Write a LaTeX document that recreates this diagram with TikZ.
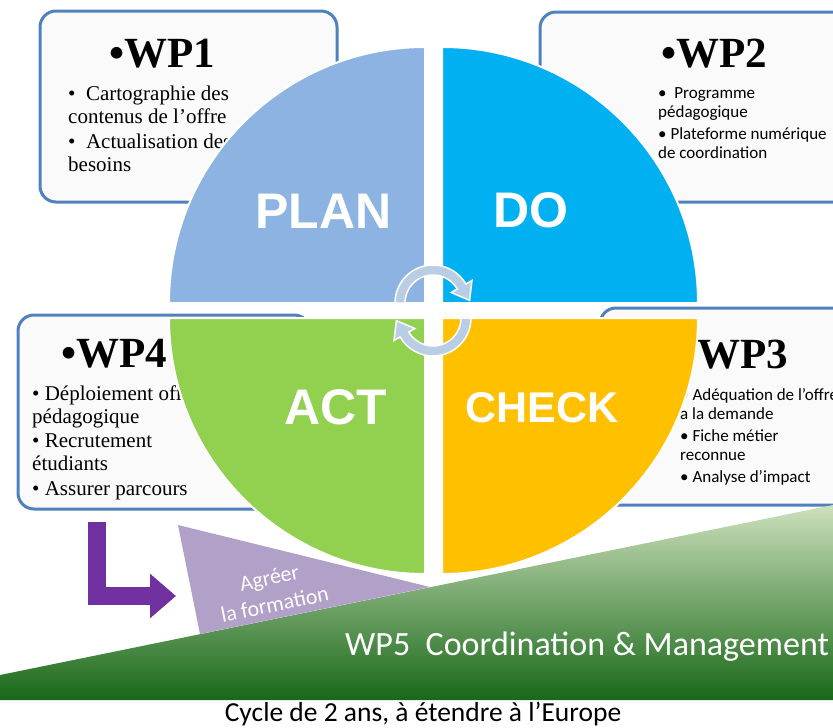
\documentclass[tikz,border=0pt]{standalone}
\usepackage{fontspec}
\setmainfont{Liberation Serif}
\newfontfamily\calibri{Carlito}
\newfontfamily\arial{Liberation Sans}
\usetikzlibrary{arrows.meta, calc}
\definecolor{planblue}{RGB}{141,179,226}
\definecolor{doblue}{RGB}{0,176,240}
\definecolor{actgreen}{RGB}{146,208,80}
\definecolor{checkorange}{RGB}{255,192,0}
\definecolor{boxblue}{RGB}{79,129,189}
\definecolor{boxfill}{RGB}{250,250,250}
\definecolor{cyclegrey}{RGB}{185,205,229}
\definecolor{agreepurple}{RGB}{177,160,199}
\definecolor{arrowpurple}{RGB}{112,48,160}
\definecolor{mgmtlight}{RGB}{205,224,188}
\definecolor{mgmtmid}{RGB}{112,162,82}
\definecolor{mgmtdark}{RGB}{24,104,24}
\tikzstyle{wpbox} = [draw=boxblue, line width=3pt, fill=boxfill, rounded corners=16pt]
\tikzstyle{wptitle} = [anchor=base, inner sep=0pt, font=\bfseries\fontsize{43}{43}\selectfont]
\tikzstyle{wpserif} = [anchor=north west, inner sep=0pt, align=left, font=\fontsize{21}{22.5}\selectfont]
\tikzstyle{wpsans} = [anchor=north west, inner sep=0pt, align=left, font=\calibri\fontsize{17}{19.5}\selectfont]
\tikzstyle{quad} = [draw=white, line width=2pt]
\tikzstyle{quadlabel} = [text=white, inner sep=0pt, font=\arial\bfseries\fontsize{50}{50}\selectfont]
\tikzstyle{cyclearrow} = [fill=cyclegrey, draw=white, line width=1.5pt]

\begin{document}
\begin{tikzpicture}[x=1pt, y=-1pt]
            \clip (0,0) rectangle (833,728);
            % work package boxes
            \draw[wpbox] (40,11) rectangle (337,202);
            \draw[wpbox] (540,12) rectangle (870,202);
            \draw[wpbox] (18,315) rectangle (310,509);
            \draw[wpbox] (600,308) rectangle (870,505);
            \node[wptitle] (wp1) at (162,67) {•WP1};
            \node[wptitle] (wp2) at (714,67) {•WP2};
            \node[wptitle, anchor=base east] (wp3) at (788,368) {•WP3};
            \node[wptitle] (wp4) at (114,367) {•WP4};
            \node[wpserif] (wp1text) at (68,86) {•\ \ Cartographie des\\contenus de l’offre\\[3pt]•\ \ Actualisation des\\besoins};
            \node[wpsans] (wp2text) at (658,87) {•\ \ Programme\\pédagogique\\[2pt]• Plateforme numérique\\de coordination};
            \node[wpsans] (wp3text) at (680,388) {• Adéquation de l’offre\\a la demande\\[2pt]• Fiche métier\\reconnue\\[2pt]• Analyse d’impact};
            \node[wpserif] (wp4text) at (32,386) {• Déploiement offre\\pédagogique\\[2pt]• Recrutement\\étudiants\\[3pt]• Assurer parcours};
            % WP5 wedge and agreement
            \shade[top color=mgmtlight, middle color=mgmtmid, bottom color=mgmtdark] (0,675) -- (833,505) -- (833,700) -- (0,700) -- cycle;
            \fill[agreepurple] (178,525) -- (430,587) -- (200,634) -- cycle;
            \node[rotate=11.5, text=white, align=center, inner sep=0pt, font=\calibri\fontsize{22}{27}\selectfont] (agree) at (272,591) {Agréer\\la formation};
            % PDCA quadrants
            \filldraw[quad, fill=planblue] (425,303) -- (169,303) arc (180:270:256) -- cycle;
            \filldraw[quad, fill=doblue] (442,303) -- (442,47) arc (270:360:256) -- cycle;
            \filldraw[quad, fill=checkorange] (442,318) -- (698,318) arc (0:90:256) -- cycle;
            \filldraw[quad, fill=actgreen] (425,318) -- (425,574) arc (90:180:256) -- cycle;
            \node[quadlabel] (plan) at (323.5,211.5) {PLAN};
            \node[quadlabel] (do) at (530.5,210) {DO};
            \node[quadlabel] (act) at (335.5,407.5) {ACT};
            \node[quadlabel, font=\arial\bfseries\fontsize{43}{43}\selectfont] (check) at (542,407.5) {CHECK};
            % cycle arrows
            \coordinate (cyc1) at (433,303);
            \coordinate (cyc2) at (433,318);
            \filldraw[cyclearrow] ($(cyc1)+(180:38)$) arc (180:330:38) -- ($(cyc1)+(330:45)$) -- ($(cyc1)+(330:33)+(60:16)$) -- ($(cyc1)+(330:21)$) -- ($(cyc1)+(330:28)$) arc (330:180:28) -- cycle;
            \filldraw[cyclearrow] ($(cyc2)+(0:38)$) arc (0:150:38) -- ($(cyc2)+(150:45)$) -- ($(cyc2)+(150:33)+(240:16)$) -- ($(cyc2)+(150:21)$) -- ($(cyc2)+(150:28)$) arc (150:0:28) -- cycle;
            % L arrow
            \coordinate (lstart) at (97,522);
            \coordinate (lend) at (176,596);
            \draw[arrowpurple, line width=18pt, line join=miter, -{Triangle[length=26pt,width=43pt]}] (lstart) |- (lend);
            \node[anchor=base west, text=white, inner sep=0pt, font=\calibri\fontsize{34}{34}\selectfont] (wp5) at (345,655) {WP5\ \ Coordination \& Management};
            \node[anchor=base, inner sep=0pt, font=\calibri\fontsize{27.5}{27.5}\selectfont] (caption) at (423,721) {Cycle de 2 ans, à étendre à l’Europe};
        \end{tikzpicture}
\end{document}
